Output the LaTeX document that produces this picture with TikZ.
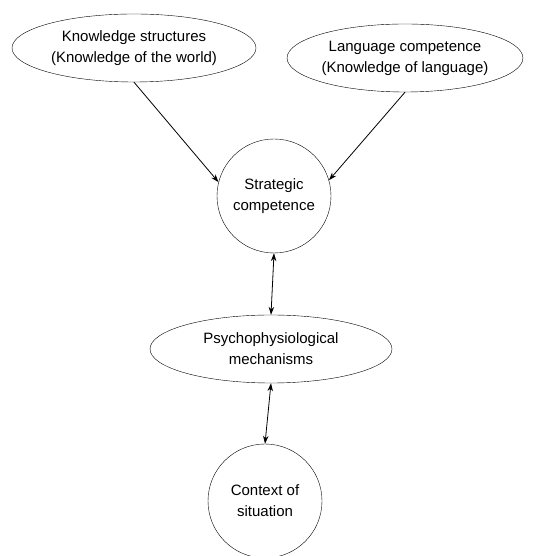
\documentclass[tikz,border=0pt]{standalone}
\usepackage{fontspec}
\setmainfont{Liberation Sans}
\usepackage{tikz}
\usetikzlibrary{arrows.meta,shapes.geometric,positioning}

\begin{document}
\begin{tikzpicture}[x=1pt,y=1pt,>=Stealth,
  font=\fontsize{15}{21}\selectfont,
  oval/.style={draw,ellipse,inner sep=0pt,minimum height=68pt,align=center},
  disc/.style={draw,circle,inner sep=0pt,minimum size=114pt,align=center},
  link/.style={line width=0.8pt,-{Stealth[length=8pt,width=5.5pt]}},
  both/.style={line width=0.8pt,{Stealth[length=8pt,width=5.5pt]}-{Stealth[length=8pt,width=5.5pt]}}]
\useasboundingbox (0,0) rectangle (541,556);
% sources of knowledge
\node[oval,minimum width=244pt] (know) at (134,508) {Knowledge structures\\(Knowledge of the world)};
\node[oval,minimum width=234pt] (lang) at (405,498) {Language competence\\(Knowledge of language)};
% centre of the model
\node[disc] (strat) at (274,360) {Strategic\\competence};
\node[oval,minimum width=242pt] (psych) at (271,207) {Psychophysiological\\mechanisms};
\node[disc] (ctx) at (265,55) {Context of\\situation};
\draw[link] (know.south) -- (strat.166);
\draw[link] (lang.south) -- (strat.16);
\draw[both] (strat.south) -- (psych.north);
\draw[both] (psych.south) -- (ctx.north);
\end{tikzpicture}
\end{document}
